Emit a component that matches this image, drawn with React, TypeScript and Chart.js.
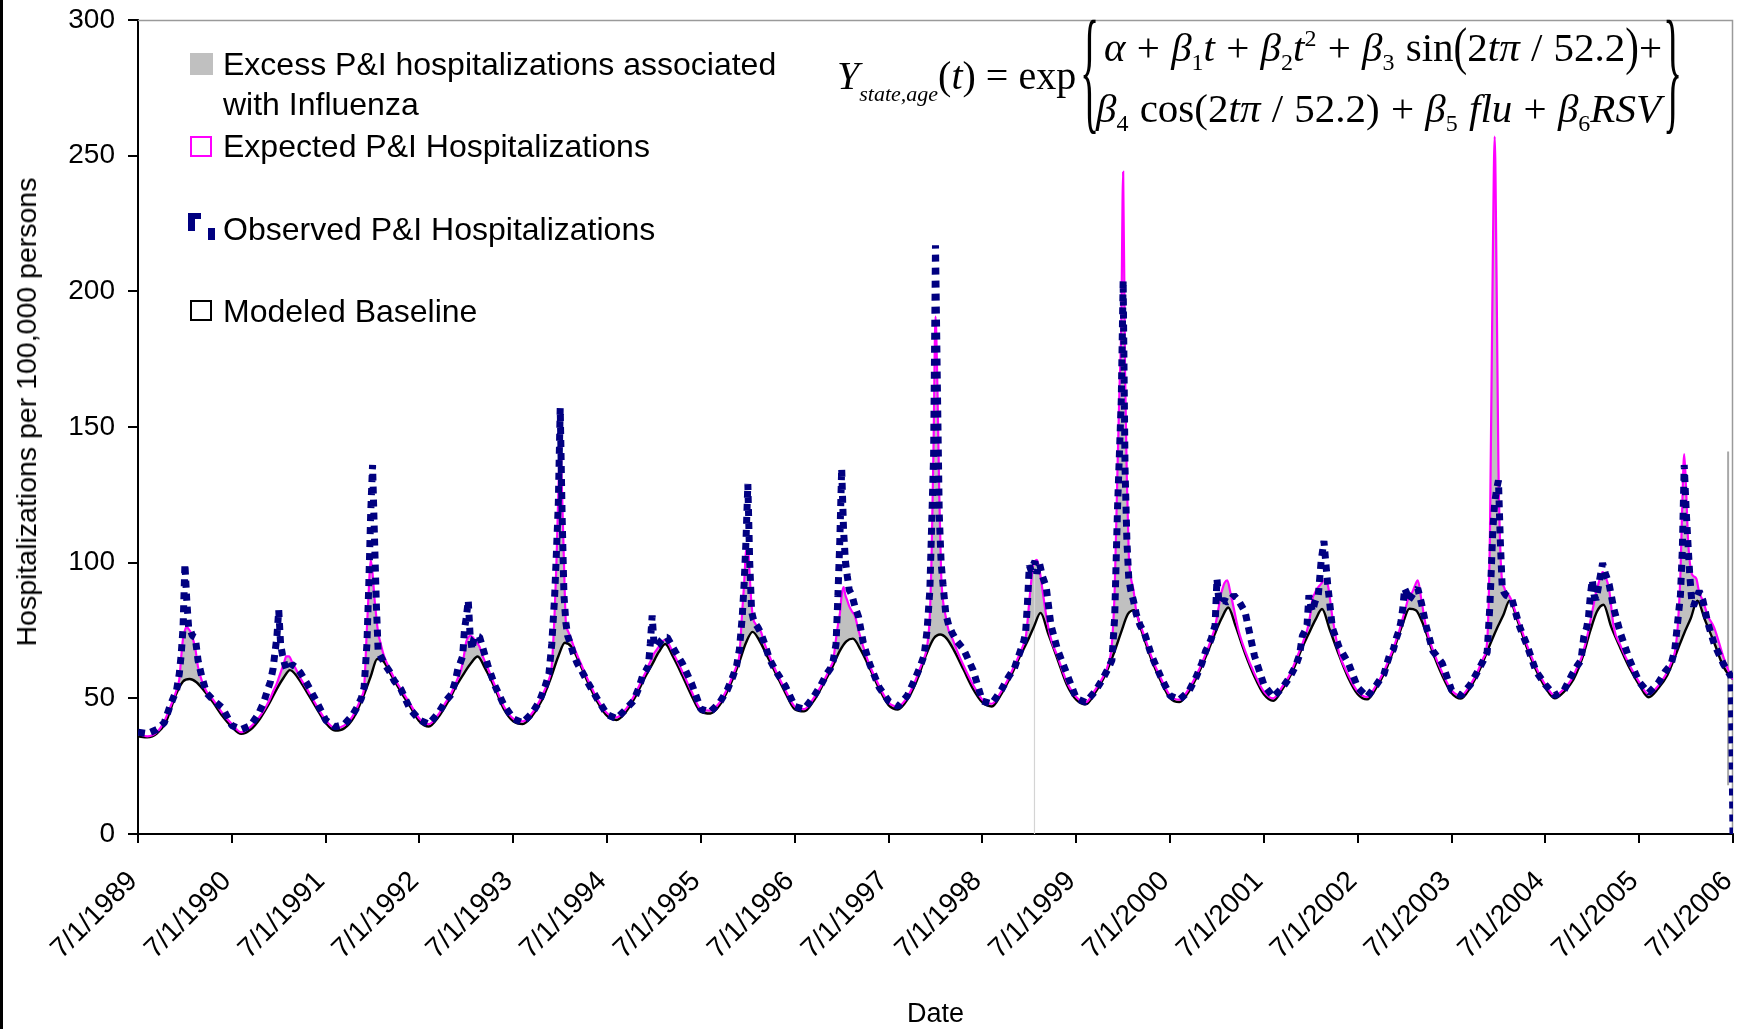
import React, { useEffect, useRef } from 'react';
import { Chart, registerables } from 'chart.js';

Chart.register(...registerables);

// Season start dates (7/1 of each year, as decimal years)
const seasonStarts = [
  1989.5, 1990.5, 1991.5, 1992.5, 1993.5, 1994.5, 1995.5, 1996.5, 1997.5,
  1998.5, 1999.5, 2000.5, 2001.5, 2002.5, 2003.5, 2004.5, 2005.5,
];

// Sampling offsets inside a season (fraction of a year after 7/1)
const baselineOffsets = [0, 0.1, 0.2, 0.3, 0.4, 0.48, 0.55, 0.62, 0.7, 0.8, 0.9];
const sampleOffsets = [
  0, 0.1, 0.2, 0.28, 0.34, 0.38, 0.41, 0.44, 0.46, 0.48, 0.5, 0.52, 0.54, 0.56,
  0.58, 0.61, 0.64, 0.68, 0.73, 0.8, 0.9,
];
const endTimes = [2006.48, 2006.5];

// Modeled baseline (per 100,000), one row per season + final value
const baselineValues = [
  36, 35.6, 37, 41.5, 51, 56.2, 57.1, 56, 53, 48.5, 43.5,
  39.5, 36.9, 38.5, 42.5, 48.2, 53.5, 57.5, 60.4, 57.8, 52.3, 46.5,
  41, 38.1, 39, 43, 50.6, 58, 64.5, 63.5, 58.5, 52.5, 47,
  41.5, 39.6, 43, 48.5, 55, 59.5, 63, 65.4, 61, 54, 46,
  41.5, 40.5, 43.5, 49, 57.5, 65.5, 70.5, 69, 63.5, 55.5, 48.5,
  43.5, 42, 45, 50.5, 57.5, 62.5, 67, 70, 65.5, 58.5, 51,
  45, 44.4, 47.5, 54, 62.5, 70.5, 74.5, 71.5, 66, 59, 52,
  46, 45.2, 49, 55, 61.5, 67.5, 71, 72, 68, 61, 53.5,
  47.5, 45.9, 49.5, 56.5, 66, 72, 73.5, 72, 67.5, 60.5, 53.5,
  48.5, 47, 51.5, 58, 65.5, 71, 76.5, 81.5, 74, 64.5, 55,
  49.5, 47.8, 52, 58, 66.5, 74.5, 81, 82.5, 74.5, 64.5, 56.5,
  50, 48.6, 52.5, 59, 67, 74, 79.5, 83.5, 76.5, 66.5, 58,
  51.5, 49.1, 53.5, 59.5, 68, 74, 79, 82.9, 75.5, 66, 57.5,
  51.5, 49.6, 54, 60.5, 69.5, 77.5, 83, 82.5, 77, 67, 58.5,
  52, 49.9, 54, 60.5, 69, 75.5, 80.5, 86, 79, 69, 60.5,
  54, 50, 52.5, 57, 65.5, 75, 82, 84.5, 76.5, 68.5, 61,
  55, 50.4, 53.5, 58.5, 67, 74, 79.5, 86, 79, 70.5, 61.5,
  57,
];

// Expected P&I hospitalizations, one row per season + two final values
const expectedValues = [
  37, 36, 37.5, 41.5, 46.5, 50, 53, 57, 65, 72, 75, 76.4, 75.5, 74.5, 72.5, 68.5, 61.5, 56.5, 52.5, 49.5, 44.5,
  40.5, 37.5, 39.5, 42.5, 45.5, 48, 50, 52.5, 54, 55.5, 57.5, 59.5, 61.5, 63.5, 65.5, 65.5, 63.5, 61, 57.5, 53.5, 47.5,
  42, 39, 40, 43, 47, 50.5, 54, 76, 90, 101, 96, 87, 80, 74, 71, 67, 64, 61, 57.5, 53.5, 48,
  42.5, 40.5, 44, 48.5, 52, 55, 57.5, 60, 63, 67, 71, 72.5, 73, 72.7, 72, 70.5, 69, 65, 61, 55, 47,
  42.5, 41.5, 44.5, 49, 53.5, 57, 62, 81, 100, 125, 145, 125, 100, 78, 75, 72.5, 69.5, 66, 62, 56.5, 49.5,
  44.5, 43, 46, 50.5, 54.5, 57.5, 59.5, 62, 63.5, 65, 66.5, 67.5, 68.5, 69.5, 70.5, 71.5, 71, 68.5, 65, 60, 52.5,
  46, 45.5, 48.5, 53.5, 58.5, 62, 66, 82, 92, 104, 105.6, 95, 84, 79, 77.5, 76, 74.5, 70, 65.5, 60, 53,
  47, 46, 50, 54.5, 58.5, 61.5, 64, 72, 77, 81, 88, 91, 88, 86, 84, 82, 80.5, 75, 69, 62, 54.5,
  48.5, 47, 50.5, 56, 61.5, 65, 69, 81, 105, 145, 190.7, 165, 125, 96, 86, 80, 75, 72, 67.5, 62, 55,
  49.5, 48, 52.5, 57.5, 62, 65, 67.5, 70, 72, 78, 86, 93, 99, 100.5, 101, 97, 90, 80.5, 72, 65.5, 56,
  50.5, 48.5, 53, 57.5, 62.5, 70, 90, 135, 163, 187, 244, 171, 130, 103, 95, 90, 82, 77.5, 72.5, 65.5, 57.5,
  51, 49.5, 53.5, 58.5, 63, 66.5, 69, 72, 74, 76.5, 80, 84, 88, 90.5, 92.5, 93.5, 89.5, 83, 75, 67.5, 59,
  52.5, 50, 54.5, 59, 64, 67.5, 70, 73, 75, 78, 82, 87, 88.5, 90, 91, 92.2, 93.5, 92, 80, 67, 58.5,
  52.5, 50.5, 55, 60, 65, 68.5, 71.5, 74.5, 77, 79.5, 82, 84.5, 87, 88, 89, 91.5, 93.5, 86, 76, 68, 59.5,
  53, 51, 55, 60, 65, 71, 112, 212, 257, 205, 135, 105, 93, 91, 89, 88, 86, 82, 77, 70, 61.5,
  55, 51, 53.5, 57, 61.5, 64.5, 68, 72, 75, 78.5, 82, 85.5, 89, 91.5, 94, 96.5, 95, 90, 76, 69.5, 62,
  56, 51.5, 54.5, 58.5, 63, 67, 76, 96, 122, 140, 127, 109, 100, 96, 95, 94, 89, 86, 80.5, 76, 65,
  58, 57,
];

// Observed P&I hospitalizations, one row per season + two final values
const observedValues = [
  37.5, 37, 38.5, 41, 47, 50.5, 52.8, 59, 66, 76, 99.5, 86, 76, 75, 73, 72.5, 64, 58, 52, 49.4, 46.5,
  40, 38.5, 40, 44, 48.5, 53, 56, 61, 67, 72.5, 82.5, 70, 66, 63, 61, 60.5, 62.5, 61.5, 59.5, 55.5, 49,
  42, 39.5, 40.5, 43.5, 47, 50, 54, 70, 92, 118, 136, 110, 85, 67, 66, 64, 62, 60, 56.5, 53.5, 46,
  42, 40.5, 44.5, 49, 51.5, 56, 61, 63.5, 65.5, 75.5, 80, 86, 73, 68, 72, 73, 72.7, 68, 62, 55, 47.5,
  42.5, 41, 44.5, 49, 54.5, 59, 70, 87, 104, 122, 157, 118, 88, 78, 73, 70, 66.5, 63, 60, 55.5, 49.5,
  44, 42.5, 46, 49, 54, 58.5, 60, 62, 70, 80.5, 70, 69, 69.5, 70.5, 71.5, 72.5, 72.5, 70, 67, 63, 55.5,
  46, 45, 48.5, 53, 58, 62, 68, 80, 92, 108, 129, 100, 82, 79, 77.5, 76, 74, 70, 64.5, 60, 54.5,
  47, 46, 50.5, 55, 59, 61, 64, 70, 88, 108, 134.7, 112, 100.5, 95, 90, 88, 84, 80, 70.5, 62.5, 54,
  49, 47, 51, 57, 62, 66, 75, 90, 115, 140, 217, 165, 118, 100, 92, 81, 77, 74, 71, 68, 60.5,
  49, 48, 53, 58, 61, 65, 68, 71, 74, 85, 99, 97, 99, 100.5, 96, 99.5, 95, 91, 77, 68, 59,
  50, 48.5, 52.5, 57, 61, 64, 80, 120, 140, 160, 204, 135, 108, 94, 90, 86, 81, 77, 73.7, 66, 58,
  51, 49.5, 52.6, 58, 63, 67.5, 69.5, 72, 74.5, 77, 94, 86, 85, 86, 86, 85.5, 86, 88, 86, 81.8, 65.6,
  55, 50.5, 54, 58, 62, 66, 73, 75, 77, 88, 84, 82, 85, 87, 88, 100.5, 108, 92, 76, 69, 63,
  54, 50.5, 55, 59, 66, 68, 72, 75, 78, 83, 90.5, 89, 86, 87, 88, 89.5, 90.5, 85, 76.5, 67.5, 63,
  53, 51, 55, 60, 64, 67, 85, 112, 122, 127, 130.3, 108, 91, 89, 88, 87.5, 87, 82, 76, 70, 60,
  55, 51, 53, 58.5, 62, 64, 72.7, 76, 80, 88, 93.6, 88, 86.3, 90, 94, 99.8, 96, 92, 83, 74, 64,
  56, 52, 55.5, 60, 62.5, 68, 78, 88, 105, 136, 120, 107, 95, 86, 84, 87, 89.5, 86, 78, 70, 62.5,
  58, 0,
];

// Thin vertical artifacts visible in the original chart
const artifactTimes = [1999.055, 2006.448];
const artifactLow = [0, 18];
const artifactHigh = [97, 141];

const tickYears = [
  1989.5, 1990.5, 1991.5, 1992.5, 1993.5, 1994.5, 1995.5, 1996.5, 1997.5,
  1998.5, 1999.5, 2000.5, 2001.5, 2002.5, 2003.5, 2004.5, 2005.5, 2006.5,
];
const tickLabels = [
  '7/1/1989', '7/1/1990', '7/1/1991', '7/1/1992', '7/1/1993', '7/1/1994',
  '7/1/1995', '7/1/1996', '7/1/1997', '7/1/1998', '7/1/1999', '7/1/2000',
  '7/1/2001', '7/1/2002', '7/1/2003', '7/1/2004', '7/1/2005', '7/1/2006',
];

const baseTimes = [...seasonStarts.flatMap((s) => baselineOffsets.map((o) => s + o)), 2006.5];
const sampleTimes = [...seasonStarts.flatMap((s) => sampleOffsets.map((o) => s + o)), ...endTimes];

const framePlugin = {
  id: 'frame',
  beforeDatasetsDraw(chart: any) {
    const { ctx, chartArea } = chart;
    const { left, top, right, bottom } = chartArea;
    ctx.save();
    ctx.strokeStyle = '#9a9a9a';
    ctx.lineWidth = 1.5;
    ctx.beginPath();
    ctx.moveTo(left, top + 0.5);
    ctx.lineTo(right - 0.5, top + 0.5);
    ctx.lineTo(right - 0.5, bottom);
    ctx.stroke();
    ctx.restore();
  },
};

const sans = '"Liberation Sans", Arial, sans-serif';
const serif = '"Liberation Serif", "Times New Roman", serif';

function LegendText({ top, children }: { top: number; children: React.ReactNode }) {
  return (
    <div
      style={{
        position: 'absolute', left: 223, top, fontFamily: sans, fontSize: 32,
        lineHeight: '32px', whiteSpace: 'nowrap', color: '#000',
      }}
    >
      {children}
    </div>
  );
}

const subStyle = { fontSize: 24, position: 'relative' as const, top: 9 };
const supStyle = { fontSize: 24, position: 'relative' as const, top: -15 };
const bigParen = { display: 'inline-block', transform: 'scaleY(1.3)', transformOrigin: '50% 60%' };

export default function App() {
  const canvasRef = useRef<HTMLCanvasElement | null>(null);

  useEffect(() => {
    if (!canvasRef.current) return;
    const artifactSets = artifactTimes.map((t, i) => ({
      label: 'artifact' + i,
      data: [{ x: t, y: artifactLow[i] }, { x: t, y: artifactHigh[i] }],
      borderColor: i === 0 ? '#d4d4d4' : '#a8a8a8',
      borderWidth: i === 0 ? 1.2 : 2,
      pointRadius: 0,
      fill: false,
    }));
    const chart = new Chart(canvasRef.current, {
      type: 'line',
      data: {
        datasets: [
          {
            label: 'Observed P&I Hospitalizations',
            data: sampleTimes.map((x, i) => ({ x, y: observedValues[i] })),
            borderColor: '#000080',
            borderWidth: 7,
            borderDash: [7, 6],
            borderCapStyle: 'butt',
            borderJoinStyle: 'bevel',
            pointRadius: 0,
            fill: false,
            tension: 0,
          },
          {
            label: 'Expected P&I Hospitalizations',
            data: sampleTimes.map((x, i) => ({ x, y: expectedValues[i] })),
            borderColor: '#FF00FF',
            borderWidth: 2.2,
            pointRadius: 0,
            cubicInterpolationMode: 'monotone',
            fill: { target: 2, above: '#C0C0C0', below: 'rgba(0,0,0,0)' },
          },
          {
            label: 'Modeled Baseline',
            data: baseTimes.map((x, i) => ({ x, y: baselineValues[i] })),
            borderColor: '#000000',
            borderWidth: 2.4,
            pointRadius: 0,
            cubicInterpolationMode: 'monotone',
            fill: false,
          },
          ...artifactSets,
        ] as any,
      },
      options: {
        animation: false,
        responsive: false,
        devicePixelRatio: 1,
        layout: { padding: { top: 20, right: 6, left: 0, bottom: 0 } },
        plugins: {
          legend: { display: false },
          tooltip: { enabled: false },
          filler: { drawTime: 'beforeDatasetsDraw' },
        } as any,
        scales: {
          x: {
            type: 'linear',
            min: 1989.5,
            max: 2006.5,
            afterBuildTicks: (scale: any) => {
              scale.ticks = tickYears.map((v) => ({ value: v }));
            },
            afterFit: (scale: any) => {
              scale.height = 195;
              scale.paddingLeft = 0;
              scale.paddingRight = 0;
            },
            ticks: {
              autoSkip: false,
              maxRotation: 45,
              minRotation: 45,
              padding: 22,
              labelOffset: -5,
              color: '#000',
              font: { family: sans, size: 28 },
              callback: (_v: any, i: number) => tickLabels[i],
            },
            grid: { drawOnChartArea: false, drawTicks: true, tickLength: 9, color: '#000', lineWidth: 2 },
            border: { display: true, color: '#000', width: 2 },
            title: {
              display: true,
              text: 'Date',
              color: '#000',
              font: { family: sans, size: 27, lineHeight: 1.1 },
              padding: { top: 0, bottom: 0 },
            },
          },
          y: {
            min: 0,
            max: 300,
            afterFit: (scale: any) => {
              scale.width = 138;
              scale.paddingTop = 0;
              scale.paddingBottom = 0;
            },
            ticks: {
              stepSize: 50,
              padding: 13,
              color: '#000',
              font: { family: sans, size: 28 },
            },
            grid: { drawOnChartArea: false, drawTicks: true, tickLength: 10, color: '#000', lineWidth: 2 },
            border: { display: true, color: '#000', width: 2 },
            title: { display: false },
          },
        },
      } as any,
      plugins: [framePlugin],
    });
    return () => chart.destroy();
  }, []);

  return (
    <div style={{ position: 'absolute', left: 0, top: 0, width: 1739, height: 1029, background: '#fff', overflow: 'hidden' }}>
      <canvas ref={canvasRef} width={1739} height={1029} style={{ position: 'absolute', left: 0, top: 0, width: 1739, height: 1029 }} />
      {/* left frame edge */}
      <div style={{ position: 'absolute', left: 0, top: 0, width: 2.5, height: 1029, background: '#000' }} />

      {/* Y axis title */}
      <div
        style={{
          position: 'absolute', left: 26, top: 412, fontFamily: sans, fontSize: 28.5, lineHeight: '30px',
          whiteSpace: 'nowrap', color: '#000', transform: 'translate(-50%, -50%) rotate(-90deg)',
        }}
      >
        Hospitalizations per 100,000 persons
      </div>

      {/* Legend */}
      <div style={{ position: 'absolute', left: 190, top: 53, width: 23, height: 22, background: '#C0C0C0' }} />
      <LegendText top={48}>Excess P&amp;I hospitalizations associated</LegendText>
      <LegendText top={88}>with Influenza</LegendText>
      <div style={{ position: 'absolute', left: 190, top: 136, width: 18, height: 17, border: '2px solid #FF00FF', background: '#fff' }} />
      <LegendText top={130}>Expected P&amp;I Hospitalizations</LegendText>
      <div style={{ position: 'absolute', left: 188, top: 213, width: 13, height: 6, background: '#000080' }} />
      <div style={{ position: 'absolute', left: 188, top: 213, width: 7, height: 18, background: '#000080' }} />
      <div style={{ position: 'absolute', left: 208, top: 228, width: 7, height: 12, background: '#000080' }} />
      <LegendText top={213}>Observed P&amp;I Hospitalizations</LegendText>
      <div style={{ position: 'absolute', left: 190, top: 300, width: 18, height: 17, border: '2px solid #000', background: '#fff' }} />
      <LegendText top={295}>Modeled Baseline</LegendText>

      {/* Model equation */}
      <div style={{ position: 'absolute', left: 837, top: 56, fontFamily: serif, fontSize: 40, lineHeight: '40px', whiteSpace: 'nowrap' }}>
        <i>Y</i>
        <i style={{ fontSize: 22, position: 'relative', top: 12 }}>state,age</i>
        (<i>t</i>) = exp
      </div>
      <div style={{ position: 'absolute', left: 1080, top: 50.6, fontFamily: serif, fontSize: 40, lineHeight: '40px', transform: 'scaleY(3.43)', transformOrigin: '50% 50%' }}>{'{'}</div>
      <div style={{ position: 'absolute', left: 1104, top: 26.7, fontFamily: serif, fontSize: 41, lineHeight: '41px', whiteSpace: 'nowrap', wordSpacing: 1 }}>
        <i>α</i> + <i>β</i><span style={subStyle}>1</span><i>t</i> + <i>β</i>
        <span style={subStyle}>2</span><i>t</i>
        <span style={supStyle}>2</span> + <i>β</i>
        <span style={subStyle}>3</span> sin<span style={bigParen}>(</span>2<i>tπ</i> / 52.2<span style={bigParen}>)</span>+
      </div>
      <div style={{ position: 'absolute', left: 1096, top: 88, fontFamily: serif, fontSize: 41, lineHeight: '41px', whiteSpace: 'nowrap', wordSpacing: 1 }}>
        <i>β</i><span style={subStyle}>4</span> cos(2<i>tπ</i> / 52.2) + <i>β</i>
        <span style={subStyle}>5</span> <i>flu</i> + <i>β</i>
        <span style={subStyle}>6</span><i>RSV</i>
      </div>
      <div style={{ position: 'absolute', left: 1663, top: 50.6, fontFamily: serif, fontSize: 40, lineHeight: '40px', transform: 'scaleY(3.43)', transformOrigin: '50% 50%' }}>{'}'}</div>
    </div>
  );
}
